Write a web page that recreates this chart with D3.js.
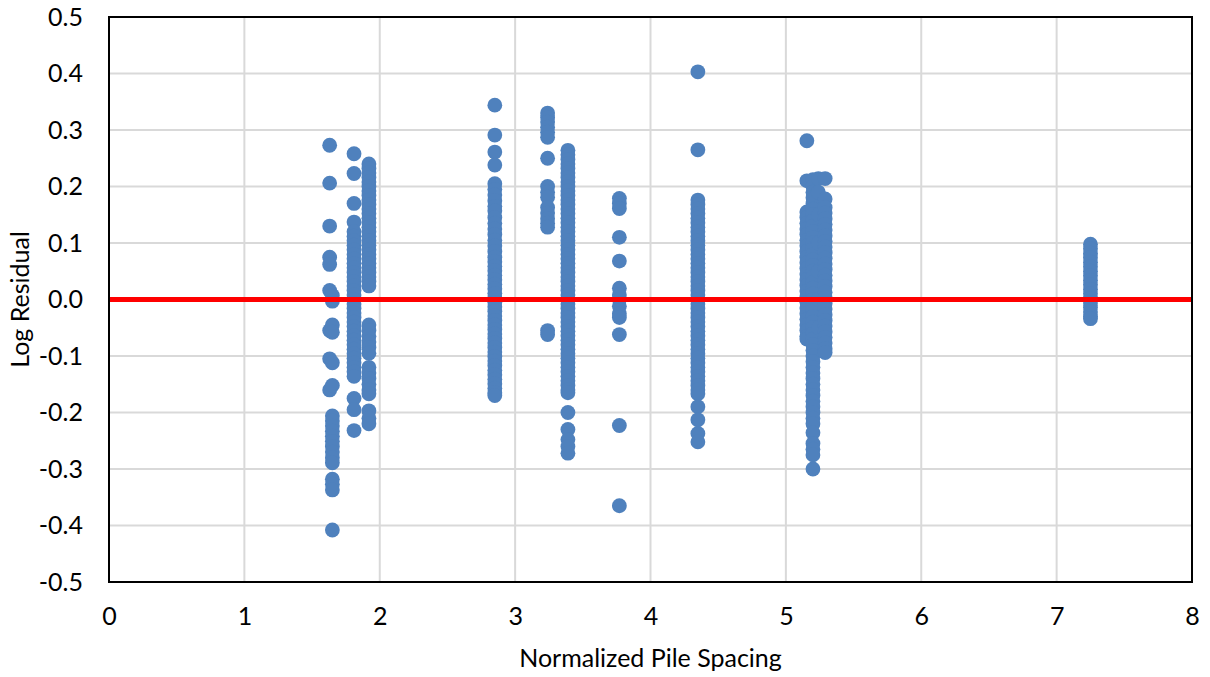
<!DOCTYPE html>
<html><head><meta charset="utf-8">
<script src="https://cdn.jsdelivr.net/npm/d3@7"></script>
<style>body{margin:0;background:#fff}svg{display:block}text{font-family:Lato,"Open Sans",sans-serif;fill:#000}</style>
</head><body>
<svg id="chart" width="1210" height="677"></svg>
<script>
const xTicks = [0,1,2,3,4,5,6,7,8];
const yTicks = [-0.5,-0.4,-0.3,-0.2,-0.1,0,0.1,0.2,0.3,0.4,0.5];

const colA1_x = 1.63;
const colA1_y = [0.273,0.206,0.13,0.075,0.062,0.016,-0.055,-0.105,-0.16];
const colA2_x = 1.65;
const colA2_y = [0.007,-0.003,-0.045,-0.058,-0.112,-0.152,-0.206,-0.215,-0.224,-0.233,-0.242,-0.251,-0.26,-0.27,-0.28,-0.289,-0.318,-0.327,-0.337,-0.408];
const colB_x = 1.81;
const colB_y = [0.258,0.223,0.17,0.137,0.12,0.112,0.104,0.096,0.088,0.08,0.072,0.064,0.056,0.048,0.04,0.032,0.024,0.016,0.008,0,-0.008,-0.016,-0.024,-0.032,-0.04,-0.048,-0.056,-0.064,-0.072,-0.08,-0.088,-0.096,-0.104,-0.112,-0.12,-0.128,-0.136,-0.175,-0.195,-0.232];
const colC_x = 1.92;
const colC_y = [0.24,0.232,0.224,0.216,0.208,0.2,0.192,0.184,0.176,0.168,0.16,0.152,0.144,0.136,0.128,0.12,0.112,0.104,0.096,0.088,0.08,0.072,0.064,0.056,0.048,0.04,0.032,0.024,-0.045,-0.055,-0.065,-0.075,-0.085,-0.095,-0.12,-0.13,-0.14,-0.15,-0.16,-0.167,-0.197,-0.21,-0.22];
const colD_x = 2.85;
const colD_y = [0.344,0.291,0.261,0.238,0.205,0.195,0.185,0.175,0.165,0.157,0.145,0.135,0.125,0.115,0.105,0.095,0.085,0.075,0.067,0.059,0.051,0.043,0.035,0.027,0.019,0.011,0.003,-0.005,-0.013,-0.021,-0.029,-0.037,-0.045,-0.053,-0.061,-0.069,-0.077,-0.085,-0.093,-0.101,-0.109,-0.117,-0.125,-0.133,-0.141,-0.149,-0.157,-0.165,-0.17];
const colE_x = 3.24;
const colE_y = [0.33,0.322,0.314,0.305,0.296,0.287,0.25,0.2,0.19,0.181,0.163,0.153,0.143,0.135,0.128,-0.055,-0.062];
const colF_x = 3.39;
const colF_y = [0.264,0.256,0.248,0.24,0.232,0.224,0.216,0.208,0.2,0.192,0.184,0.176,0.168,0.16,0.152,0.144,0.136,0.128,0.12,0.112,0.104,0.096,0.088,0.08,0.072,0.064,0.056,0.048,0.04,0.032,0.024,0.016,0.008,0,-0.008,-0.016,-0.024,-0.032,-0.04,-0.048,-0.056,-0.064,-0.072,-0.08,-0.088,-0.096,-0.104,-0.112,-0.12,-0.128,-0.136,-0.144,-0.152,-0.16,-0.165,-0.2,-0.23,-0.248,-0.26,-0.272];
const colG_x = 3.77;
const colG_y = [0.179,0.17,0.161,0.11,0.068,0.02,0.008,0,-0.012,-0.025,-0.032,-0.062,-0.223,-0.365];
const colH_x = 4.35;
const colH_y = [0.403,0.265,0.176,0.168,0.16,0.152,0.144,0.136,0.128,0.12,0.112,0.104,0.096,0.088,0.08,0.072,0.064,0.056,0.048,0.04,0.032,0.024,0.016,0.008,0,-0.008,-0.016,-0.024,-0.032,-0.04,-0.048,-0.056,-0.064,-0.072,-0.08,-0.088,-0.096,-0.104,-0.112,-0.12,-0.128,-0.136,-0.144,-0.152,-0.16,-0.167,-0.19,-0.213,-0.237,-0.252];
const colI1_x = 5.155;
const colI1_y = [0.281,0.21,0.155,0.145,0.135,0.125,0.115,0.105,0.095,0.085,0.075,0.065,0.055,0.045,0.035,0.025,0.015,0.005,-0.005,-0.015,-0.025,-0.035,-0.045,-0.055,-0.065,-0.07];
const colI2_x = 5.2;
const colI2_y = [0.212,0.2,0.19,0.18,0.17,0.16,0.15,0.14,0.13,0.12,0.11,0.1,0.09,0.08,0.07,0.06,0.05,0.04,0.03,0.02,0.01,0,-0.01,-0.02,-0.03,-0.04,-0.05,-0.06,-0.07,-0.08,-0.09,-0.1,-0.11,-0.12,-0.13,-0.14,-0.15,-0.16,-0.17,-0.18,-0.19,-0.2,-0.21,-0.22,-0.236,-0.255,-0.265,-0.275,-0.3];
const colI3_x = 5.24;
const colI3_y = [0.214,0.19,0.15,0.1,0.05,0,-0.05];
const colI4_x = 5.29;
const colI4_y = [0.214,0.178,0.163,0.153,0.143,0.133,0.123,0.113,0.103,0.093,0.083,0.073,0.063,0.053,0.043,0.033,0.023,0.013,0.003,-0.007,-0.017,-0.027,-0.037,-0.047,-0.057,-0.067,-0.077,-0.087,-0.094];
const colJ_x = 7.25;
const colJ_y = [0.098,0.09,0.082,0.074,0.066,0.058,0.05,0.042,0.034,0.026,0.018,0.01,0.002,-0.006,-0.014,-0.022,-0.03,-0.034];

const columns = [
  [colA1_x,colA1_y],[colA2_x,colA2_y],[colB_x,colB_y],[colC_x,colC_y],[colD_x,colD_y],
  [colE_x,colE_y],[colF_x,colF_y],[colG_x,colG_y],[colH_x,colH_y],
  [colI1_x,colI1_y],[colI2_x,colI2_y],[colI3_x,colI3_y],[colI4_x,colI4_y],[colJ_x,colJ_y]
];
const points = [];
columns.forEach(([x, ys]) => ys.forEach(y => points.push({x, y})));

const L = 109, R = 1192, T = 17, B = 582;
const svg = d3.select("#chart");
const x = d3.scaleLinear().domain([0,8]).range([L,R]);
const y = d3.scaleLinear().domain([-0.5,0.5]).range([B,T]);

svg.append("g").selectAll("line").data(xTicks).join("line")
  .attr("x1", d=>x(d)).attr("x2", d=>x(d)).attr("y1", T).attr("y2", B)
  .attr("stroke", "#d9d9d9").attr("stroke-width", 2);
svg.append("g").selectAll("line").data(yTicks).join("line")
  .attr("y1", d=>y(d)).attr("y2", d=>y(d)).attr("x1", L).attr("x2", R)
  .attr("stroke", "#d9d9d9").attr("stroke-width", 2);

const xAxis = d3.axisBottom(x).tickValues(xTicks).tickFormat(d3.format("d")).tickSize(0).tickPadding(25);
const gx = svg.append("g").attr("transform", `translate(0,${B})`).call(xAxis);
gx.select(".domain").remove();
gx.selectAll("text").style("font-size","25px").style("font-family","Lato").attr("fill","#000");

const loc = d3.formatLocale({decimal: ".", thousands: ",", grouping: [3], currency: ["", ""], minus: "-"});
const yAxis = d3.axisLeft(y).tickValues(yTicks).tickFormat(loc.format(".1f")).tickSize(0).tickPadding(26);
const gy = svg.append("g").attr("transform", `translate(${L},0)`).call(yAxis);
gy.select(".domain").remove();
gy.selectAll("text").style("font-size","25px").style("font-family","Lato").attr("fill","#000");

svg.append("g").selectAll("circle").data(points).join("circle")
  .attr("cx", d=>x(d.x)).attr("cy", d=>y(d.y)).attr("r", 7.4)
  .attr("fill", "#4f81bd");

svg.append("line").attr("x1", L).attr("x2", R).attr("y1", y(0)).attr("y2", y(0))
  .attr("stroke", "#ff0000").attr("stroke-width", 5);

svg.append("rect").attr("x", L).attr("y", T).attr("width", R-L).attr("height", B-T)
  .attr("fill","none").attr("stroke","#000").attr("stroke-width",2);

svg.append("text").attr("x", (L+R)/2).attr("y", 667).attr("text-anchor","middle")
  .style("font-size","25px").text("Normalized Pile Spacing");
svg.append("text").attr("transform", `translate(29,${(T+B)/2}) rotate(-90)`).attr("text-anchor","middle")
  .style("font-size","25px").text("Log Residual");
</script>
</body></html>
